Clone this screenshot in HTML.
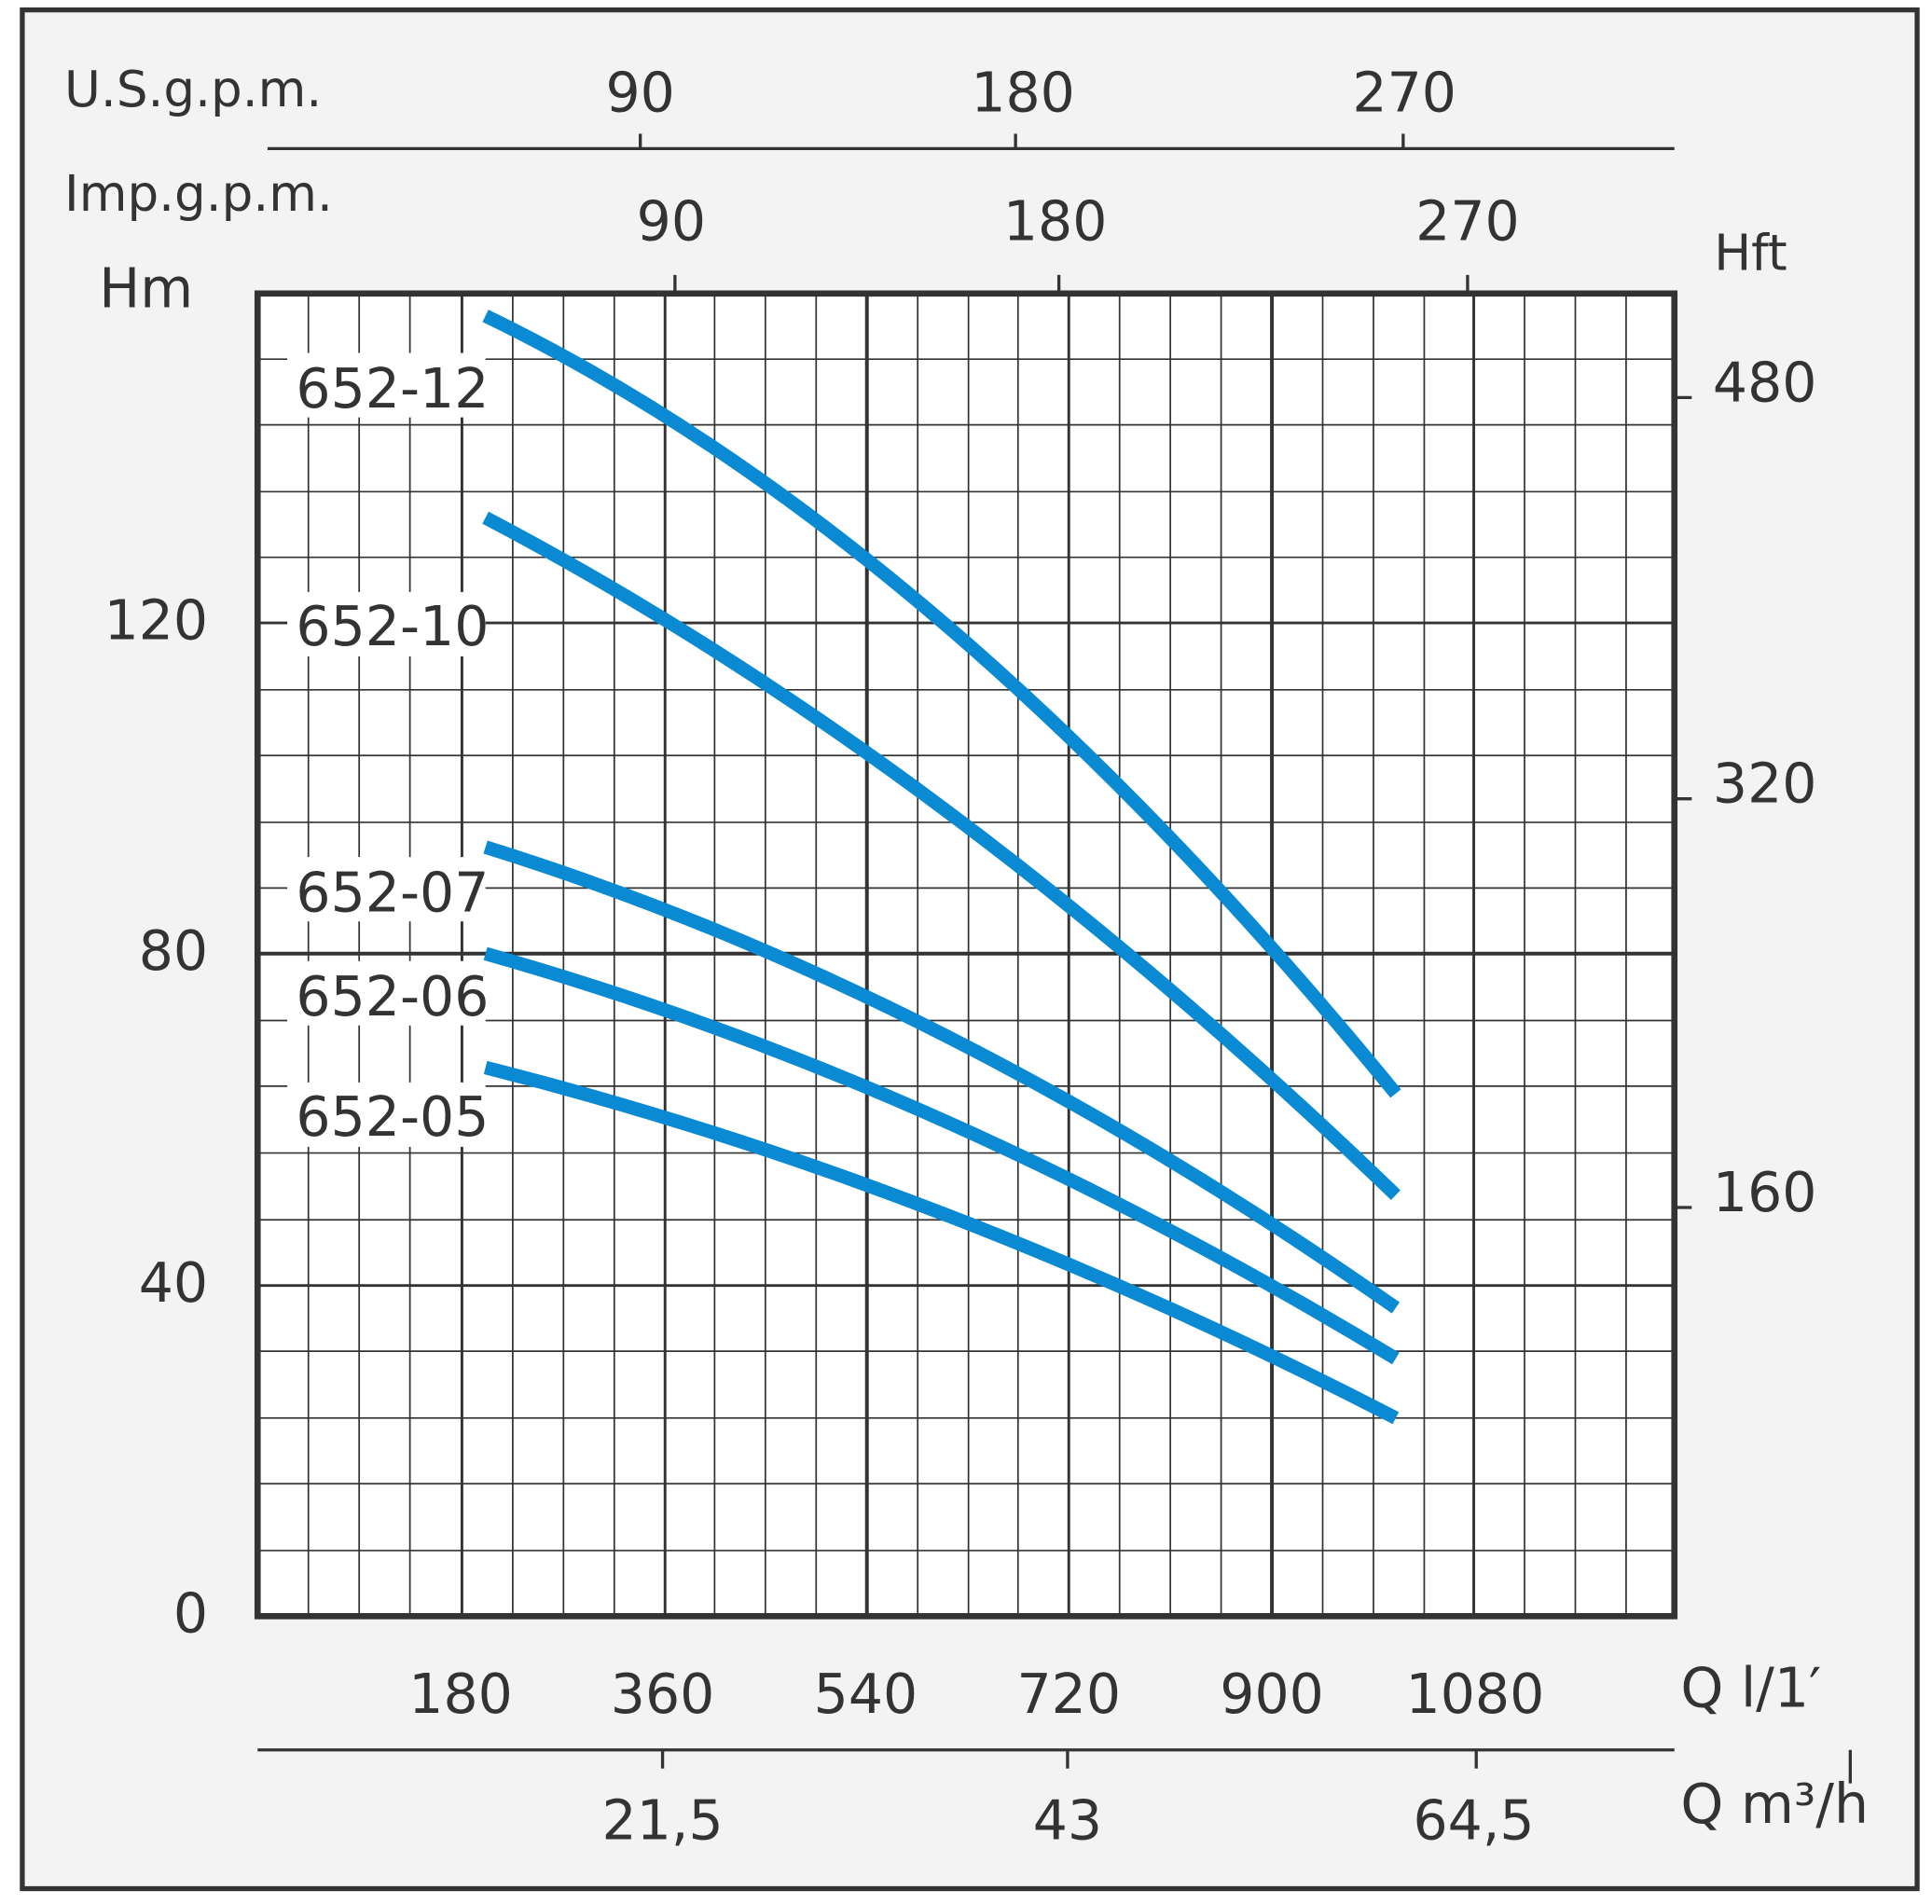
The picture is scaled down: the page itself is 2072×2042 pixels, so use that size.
<!DOCTYPE html>
<html><head><style>
html,body{margin:0;padding:0;background:#fff;}
svg{display:block;}
text{font-family:"DejaVu Sans","Liberation Sans",sans-serif;fill:#333;}
</style></head><body>
<svg width="2072" height="2042" viewBox="0 0 1560 1537.4" preserveAspectRatio="none" xmlns="http://www.w3.org/2000/svg">
<rect x="18" y="8" width="1530" height="1517" fill="#f3f3f3" stroke="#333" stroke-width="4"/>
<rect x="208" y="237" width="1144" height="1068" fill="#fff"/>
<g stroke="#333" stroke-width="1.3">
<line x1="249" y1="237" x2="249" y2="1305"/><line x1="290" y1="237" x2="290" y2="1305"/><line x1="331" y1="237" x2="331" y2="1305"/>
<line x1="414" y1="237" x2="414" y2="1305"/><line x1="455" y1="237" x2="455" y2="1305"/><line x1="496" y1="237" x2="496" y2="1305"/>
<line x1="577" y1="237" x2="577" y2="1305"/><line x1="618" y1="237" x2="618" y2="1305"/><line x1="659" y1="237" x2="659" y2="1305"/>
<line x1="741" y1="237" x2="741" y2="1305"/><line x1="782" y1="237" x2="782" y2="1305"/><line x1="822" y1="237" x2="822" y2="1305"/>
<line x1="904" y1="237" x2="904" y2="1305"/><line x1="945" y1="237" x2="945" y2="1305"/><line x1="986" y1="237" x2="986" y2="1305"/>
<line x1="1068" y1="237" x2="1068" y2="1305"/><line x1="1109" y1="237" x2="1109" y2="1305"/><line x1="1150" y1="237" x2="1150" y2="1305"/>
<line x1="1231" y1="237" x2="1231" y2="1305"/><line x1="1272" y1="237" x2="1272" y2="1305"/><line x1="1313" y1="237" x2="1313" y2="1305"/>
<line x1="208" y1="1252" x2="1352" y2="1252"/><line x1="208" y1="1198" x2="1352" y2="1198"/><line x1="208" y1="1145" x2="1352" y2="1145"/><line x1="208" y1="1091" x2="1352" y2="1091"/>
<line x1="208" y1="985" x2="1352" y2="985"/><line x1="208" y1="931" x2="1352" y2="931"/><line x1="208" y1="877" x2="1352" y2="877"/><line x1="208" y1="824" x2="1352" y2="824"/>
<line x1="208" y1="717" x2="1352" y2="717"/><line x1="208" y1="664" x2="1352" y2="664"/><line x1="208" y1="610" x2="1352" y2="610"/><line x1="208" y1="557" x2="1352" y2="557"/>
<line x1="208" y1="450" x2="1352" y2="450"/><line x1="208" y1="397" x2="1352" y2="397"/><line x1="208" y1="343" x2="1352" y2="343"/><line x1="208" y1="290" x2="1352" y2="290"/>
</g>
<g stroke="#333" stroke-width="2.2">
<line x1="373" y1="237" x2="373" y2="1305"/><line x1="537" y1="237" x2="537" y2="1305"/><line x1="863" y1="237" x2="863" y2="1305"/><line x1="1190" y1="237" x2="1190" y2="1305"/>
<line x1="208" y1="1038" x2="1352" y2="1038"/><line x1="208" y1="503" x2="1352" y2="503"/>
</g>
<g stroke="#333" stroke-width="3">
<line x1="700" y1="237" x2="700" y2="1305"/><line x1="1027" y1="237" x2="1027" y2="1305"/><line x1="208" y1="770" x2="1352" y2="770"/>
</g>
<rect x="208" y="237" width="1144" height="1068" fill="none" stroke="#333" stroke-width="5"/>
<g fill="#fff">
<rect x="232" y="285" width="160" height="52"/><rect x="232" y="478" width="160" height="52"/><rect x="232" y="692" width="160" height="52"/><rect x="232" y="776" width="160" height="52"/><rect x="232" y="874" width="160" height="52"/>
</g>
<g font-size="44">
<text x="239" y="329">652-12</text><text x="239" y="521">652-10</text><text x="239" y="736">652-07</text><text x="239" y="820">652-06</text><text x="239" y="917">652-05</text>
</g>
<g fill="none" stroke="#0a8ad2" stroke-width="11">
<path d="M392,255 Q759.5,433 1127,883"/>
<path d="M392,418 Q759.5,610.9 1127,965"/>
<path d="M392,684 Q759.5,798.4 1127,1056"/>
<path d="M392,770 Q759.5,873.9 1127,1097"/>
<path d="M392,862 Q759.5,954.9 1127,1145"/>
</g>
<g stroke="#333" stroke-width="2.5">
<line x1="216" y1="120" x2="1352" y2="120"/>
<line x1="517" y1="108" x2="517" y2="120"/><line x1="820" y1="108" x2="820" y2="120"/><line x1="1133" y1="108" x2="1133" y2="120"/>
<line x1="545" y1="222" x2="545" y2="237"/><line x1="855" y1="222" x2="855" y2="237"/><line x1="1185" y1="222" x2="1185" y2="237"/>
<line x1="1352" y1="321" x2="1366" y2="321"/><line x1="1352" y1="645" x2="1366" y2="645"/><line x1="1352" y1="975" x2="1366" y2="975"/>
<line x1="208" y1="1413" x2="1352" y2="1413"/>
<line x1="535" y1="1413" x2="535" y2="1428"/><line x1="862" y1="1413" x2="862" y2="1428"/><line x1="1192" y1="1413" x2="1192" y2="1428"/>
<line x1="1494" y1="1413" x2="1494" y2="1440"/>
</g>
<g font-size="44">
<text x="52" y="86" font-size="40">U.S.g.p.m.</text>
<text x="517" y="90" text-anchor="middle">90</text><text x="826" y="90" text-anchor="middle">180</text><text x="1134" y="90" text-anchor="middle">270</text>
<text x="52" y="170" font-size="40">Imp.g.p.m.</text>
<text x="542" y="194" text-anchor="middle">90</text><text x="852" y="194" text-anchor="middle">180</text><text x="1185" y="194" text-anchor="middle">270</text>
<text x="80" y="248">Hm</text><text x="1384" y="218" font-size="40">Hft</text>
<text x="168" y="516" text-anchor="end">120</text><text x="168" y="783" text-anchor="end">80</text><text x="168" y="1051" text-anchor="end">40</text><text x="168" y="1318" text-anchor="end">0</text>
<text x="1383" y="324">480</text><text x="1383" y="648">320</text><text x="1383" y="978">160</text>
<text x="372" y="1383" text-anchor="middle">180</text><text x="535" y="1383" text-anchor="middle">360</text><text x="699" y="1383" text-anchor="middle">540</text><text x="863" y="1383" text-anchor="middle">720</text><text x="1027" y="1383" text-anchor="middle">900</text><text x="1191" y="1383" text-anchor="middle">1080</text>
<text x="1357" y="1378">Q l/1′</text>
<text x="535" y="1485" text-anchor="middle">21,5</text><text x="862" y="1485" text-anchor="middle">43</text><text x="1190" y="1485" text-anchor="middle">64,5</text>
<text x="1357" y="1472">Q m³/h</text>
</g>
</svg>
</body></html>
